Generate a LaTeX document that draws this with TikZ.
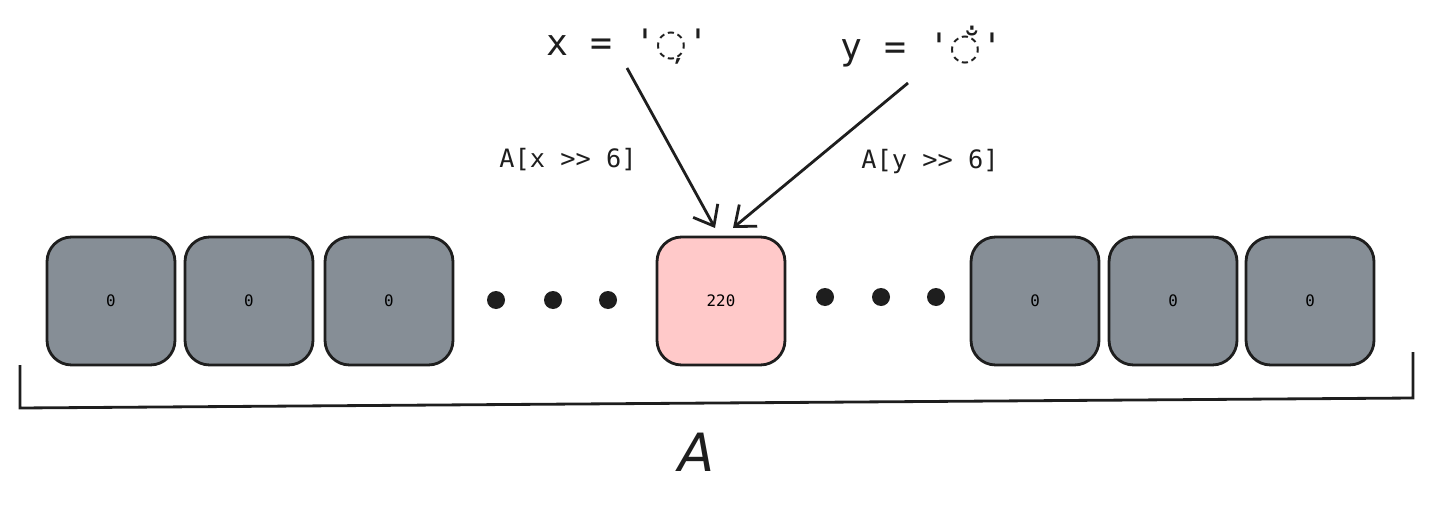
\documentclass[tikz,border=0pt]{standalone}
\usepackage{fontspec}
\setmainfont{DejaVu Sans}
\setmonofont{DejaVu Sans Mono}
\usetikzlibrary{arrows.meta,positioning}
\definecolor{CellClr}{HTML}{868E96}
\definecolor{HitClr}{HTML}{FFC9C9}
\definecolor{InkClr}{HTML}{1E1E1E}
\newcommand{\sq}{\textquotesingle}
\tikzset{
  cell/.style={draw=InkClr,line width=1.6pt,rounded corners=14pt,minimum size=2.56cm,
    inner sep=0pt,fill=CellClr,font=\ttfamily\small},
  dot/.style={circle,fill=InkClr,inner sep=0pt,minimum size=0.36cm},
  lbl/.style={font=\ttfamily\Large,text=InkClr},
  key/.style={font=\ttfamily\huge,text=InkClr},
  ptr/.style={draw=InkClr,line width=1.6pt,-{Straight Barb[length=10pt,width=16pt]}}
}
\begin{document}
\begin{tikzpicture}[x=0.02cm,y=-0.02cm]
\useasboundingbox (0,0) rectangle (1433,507);

% Cells of the array, left group.
\node[cell] (c1) at (111,301) {0};
\node[cell] (c2) at (249,301) {0};
\node[cell] (c3) at (389,301) {0};
\node[dot] (d1) at (496,300) {};
\node[dot] (d2) at (553,300) {};
\node[dot] (d3) at (608,300) {};
\node[cell,fill=HitClr] (hit) at (721,301) {220};
\node[dot] (d4) at (825,297) {};
\node[dot] (d5) at (881,297) {};
\node[dot] (d6) at (936,297) {};
% Cells of the array, right group.
\node[cell] (c4) at (1035,301) {0};
\node[cell] (c5) at (1173,301) {0};
\node[cell] (c6) at (1310,301) {0};

% Brace under the array.
\coordinate (bl) at (20,365);
\coordinate (br) at (1413,352);
\draw[InkClr,line width=1.6pt] (bl) -- (20,408) -- (1413,398) -- (br);
\node[font=\fontsize{30}{36}\selectfont\itshape,text=InkClr] (name) at (697,452) {A};

% Keys and lookups.
\node[key] (kx) at (628,47) {x = \sq{\rmfamily ◌̦}\sq};
\node[key] (ky) at (922,47) {y = \sq{\rmfamily ◌̐}\sq};
\coordinate (kxe) at (627,68);
\coordinate (kye) at (908,83);
\draw[ptr] (kxe) -- (715,228);
\draw[ptr] (kye) -- (733,228);
\node[lbl] (lx) at (568,160) {A[x >> 6]};
\node[lbl] (ly) at (930,162) {A[y >> 6]};
\end{tikzpicture}
\end{document}
